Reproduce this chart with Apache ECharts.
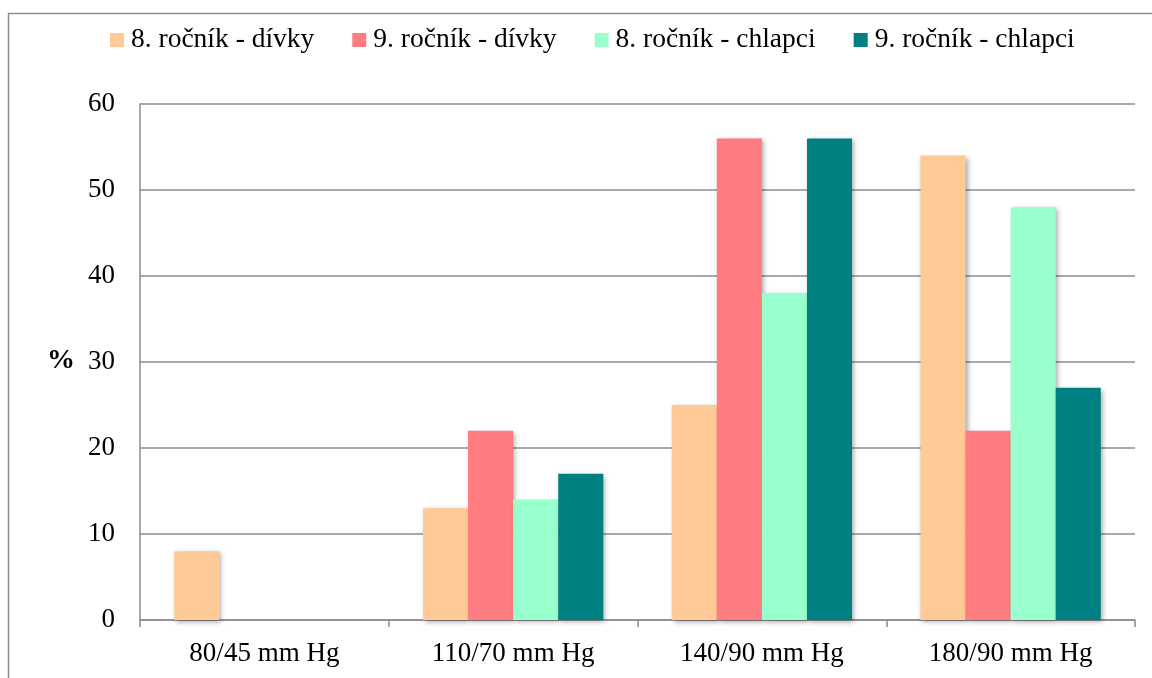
<!DOCTYPE html>
<html>
<head>
<meta charset="utf-8">
<script src="https://cdn.jsdelivr.net/npm/echarts@6/dist/echarts.min.js"></script>
<style>
  html, body { margin: 0; padding: 0; background: #fff; }
  #chart { width: 1152px; height: 678px; }
</style>
</head>
<body>
<div id="chart"></div>
<script>
// Krevní tlak – podíl žáků (%) podle ročníku a pohlaví
const categories = ['80/45 mm Hg', '110/70 mm Hg', '140/90 mm Hg', '180/90 mm Hg'];
const seriesNames = ['8. ročník - dívky', '9. ročník - dívky', '8. ročník - chlapci', '9. ročník - chlapci'];
const divky8 = [8, 13, 25, 54];
const divky9 = [0, 22, 56, 22];
const chlapci8 = [0, 14, 38, 48];
const chlapci9 = [0, 17, 56, 27];
const yTicks = [0, 10, 20, 30, 40, 50, 60];

const colors = ['#FFCA95', '#FF7C80', '#99FFCC', '#008080'];
const values = [divky8, divky9, chlapci8, chlapci9];
const font = '"Liberation Serif", "Times New Roman", serif';
const fs = 27;

const chart = echarts.init(document.getElementById('chart'));
chart.setOption({
  animation: false,
  color: colors,
  textStyle: { fontFamily: font },
  graphic: [{
    type: 'rect',
    shape: { x: 8.5, y: 13.5, width: 1160, height: 700 },
    style: { fill: 'none', stroke: '#8c8c8c', lineWidth: 1.5 },
    silent: true
  }, {
    type: 'text',
    left: 47,
    top: 347,
    style: { text: '%', font: 'bold 28px ' + font, fill: '#000' }
  }],
  legend: {
    top: 21,
    left: 105,
    itemWidth: 14,
    itemHeight: 14,
    itemGap: 38,
    icon: 'rect',
    textStyle: { fontSize: 27.5, color: '#000', fontFamily: font, padding: [0, 0, 0, 2] },
    data: seriesNames
  },
  grid: { left: 140, right: 17, top: 104, bottom: 58 },
  xAxis: {
    type: 'category',
    data: categories,
    axisLine: { lineStyle: { color: '#8c8c8c', width: 1.5 } },
    axisTick: { show: true, length: 7, lineStyle: { color: '#8c8c8c', width: 1.5 } },
    axisLabel: { fontSize: fs, color: '#000', margin: 20, fontFamily: font }
  },
  yAxis: {
    type: 'value',
    min: yTicks[0],
    max: yTicks[yTicks.length - 1],
    interval: 10,
    axisLine: { show: true, lineStyle: { color: '#8c8c8c', width: 1.5 } },
    axisTick: { show: false },
    splitLine: { lineStyle: { color: '#8c8c8c', width: 1.5 } },
    axisLabel: { fontSize: fs, color: '#000', margin: 25, fontFamily: font }
  },
  series: seriesNames.map((name, i) => ({
    name: name,
    type: 'bar',
    data: values[i],
    barGap: '0%',
    barCategoryGap: '27.5%',
    itemStyle: {
      color: colors[i],
      shadowColor: 'rgba(0,0,0,0.35)',
      shadowBlur: 5,
      shadowOffsetX: 2,
      shadowOffsetY: 2
    }
  }))
});
</script>
</body>
</html>
